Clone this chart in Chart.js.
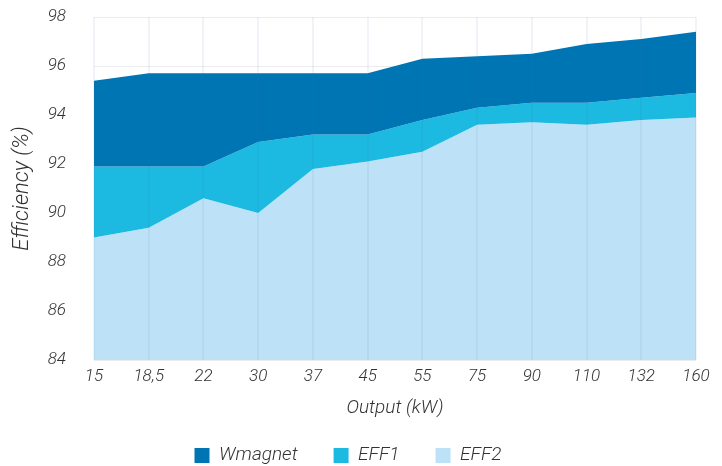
<!DOCTYPE html>
<html>
<head>
<meta charset="utf-8">
<script src="https://cdn.jsdelivr.net/npm/chart.js@4"></script>
<style>
  html, body { margin: 0; padding: 0; background: #fff; }
  #wrap { width: 722px; height: 466px; }
</style>
</head>
<body>
<div id="wrap"><canvas id="chart"></canvas></div>
<script>
var categories = ["15", "18,5", "22", "30", "37", "45", "55", "75", "90", "110", "132", "160"];
var wmagnet = [95.4, 95.7, 95.7, 95.7, 95.7, 95.7, 96.3, 96.4, 96.5, 96.9, 97.1, 97.4];
var eff1 = [91.9, 91.9, 91.9, 92.9, 93.2, 93.2, 93.8, 94.3, 94.5, 94.5, 94.7, 94.9];
var eff2 = [89.0, 89.4, 90.6, 90.0, 91.8, 92.1, 92.5, 93.6, 93.7, 93.6, 93.8, 93.9];
var yTicks = [84, 86, 88, 90, 92, 94, 96, 98];

var tickFont = { family: "Roboto", size: 17, style: "italic", weight: 300 };
var labelFont = { family: "Roboto", size: 19, style: "italic", weight: 300 };
var textColor = "#333333";

new Chart(document.getElementById("chart"), {
  type: "line",
  data: {
    labels: categories,
    datasets: [
      { label: "Wmagnet", data: wmagnet, backgroundColor: "#0075b4", borderColor: "#0075b4", borderWidth: 0, pointRadius: 0, fill: "+1" },
      { label: "EFF1", data: eff1, backgroundColor: "#1cb9e0", borderColor: "#1cb9e0", borderWidth: 0, pointRadius: 0, fill: "+1" },
      { label: "EFF2", data: eff2, backgroundColor: "#bde2f7", borderColor: "#bde2f7", borderWidth: 0, pointRadius: 0, fill: "start" }
    ]
  },
  options: {
    responsive: true,
    maintainAspectRatio: false,
    animation: false,
    layout: { padding: { top: 17, right: 26, bottom: -9, left: 0 } },
    plugins: {
      tooltip: { enabled: false },
      legend: {
        position: "bottom",
        labels: { font: labelFont, color: textColor, boxWidth: 15, boxHeight: 15, padding: 36 }
      }
    },
    scales: {
      x: {
        offset: false,
        // fixed height so the title and legend sit where they do in the original
        afterFit: function (scale) { scale.height = 50; },
        border: { display: false },
        grid: { display: true, color: "rgba(60,110,160,0.08)", lineWidth: 2, drawTicks: false, z: 1 },
        ticks: { font: tickFont, color: textColor, padding: 7, maxRotation: 0, autoSkip: false },
        title: { display: true, text: "Output (kW)", font: labelFont, color: textColor, padding: { top: 0, bottom: -10 } }
      },
      y: {
        min: 84,
        max: 98,
        afterBuildTicks: function (scale) {
          scale.ticks = yTicks.map(function (v) { return { value: v }; });
        },
        afterFit: function (scale) {
          scale.width = 94;
          scale.paddingTop = 10;
          scale.paddingBottom = 10;
        },
        border: { display: false },
        grid: { color: "#ececec", drawTicks: false },
        ticks: { font: tickFont, color: textColor, padding: 28 },
        title: { display: true, text: "Efficiency (%)", font: { family: "Roboto", size: 22, style: "italic", weight: 300 }, color: textColor, padding: { top: 9, bottom: 0 } }
      }
    }
  }
});
</script>
</body>
</html>
